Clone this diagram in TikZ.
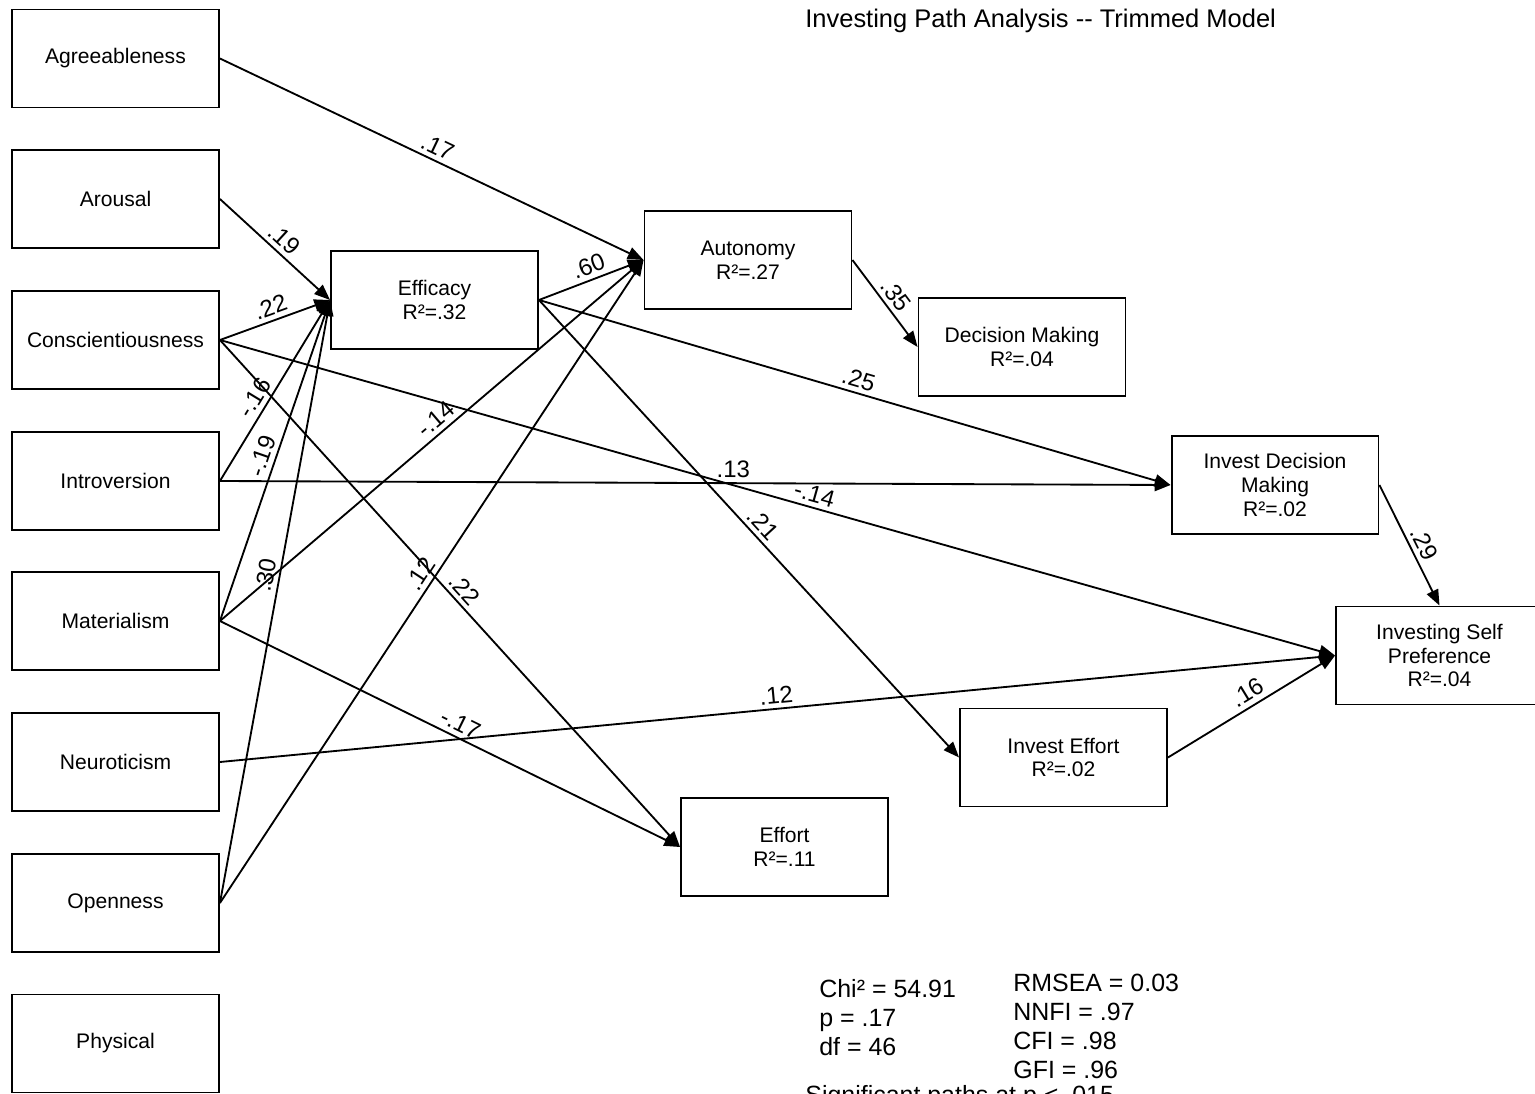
\documentclass[tikz,border=0pt]{standalone}
\usepackage{fontspec}
\setmainfont{Liberation Sans}
\usetikzlibrary{arrows.meta}
\begin{document}
\begin{tikzpicture}[x=0.02cm,y=-0.02cm,
  box/.style={draw, line width=1.1pt, minimum width=4.14cm, minimum height=1.96cm,
    inner sep=0pt, align=center, font=\fontsize{12}{13.6}\selectfont},
  pathline/.style={line width=1.05pt, -{Triangle[length=9pt,width=7pt]}},
  coef/.style={sloped, above, pos=0.5, inner sep=2.5pt, font=\fontsize{13.6}{15}\selectfont},
  stat/.style={anchor=base west, inner sep=0pt, font=\fontsize{14.2}{16}\selectfont}]
\useasboundingbox (0,0) rectangle (1535,1094);
\clip (0,0) rectangle (1535,1094);

% title
\node[anchor=base west, inner sep=0pt, font=\fontsize{14.5}{16}\selectfont] (title)
  at (805,28) {Investing Path Analysis {-}{-} Trimmed Model};

% exogenous variables
\node[box] (agr)   at (115.5,58.5)  {Agreeableness};
\node[box] (arou)  at (115.5,199)   {Arousal};
\node[box] (consc) at (115.5,340)   {Conscientiousness};
\node[box] (intro) at (115.5,481)   {Introversion};
\node[box] (mat)   at (115.5,621)   {Materialism};
\node[box] (neuro) at (115.5,762)   {Neuroticism};
\node[box] (open)  at (115.5,903)   {Openness};
\node[box] (phys)  at (115.5,1043.5){Physical};

% endogenous variables
\node[box] (eff)   at (434.5,300)   {Efficacy\\R²=.32};
\node[box] (auto)  at (748,260)     {Autonomy\\R²=.27};
\node[box] (dm)    at (1022,347)    {Decision Making\\R²=.04};
\node[box] (idm)   at (1275,485)    {Invest Decision\\Making\\R²=.02};
\node[box] (isp)   at (1439.5,655.5){Investing Self\\Preference\\R²=.04};
\node[box] (ie)    at (1063.5,757.5){Invest Effort\\R²=.02};
\node[box] (effo)  at (784.5,847)   {Effort\\R²=.11};

% paths into Efficacy
\draw[pathline] (arou.east)  -- node[coef] {.19} (eff.west);
\draw[pathline] (consc.east) -- node[coef] {.22} (eff.west);
\draw[pathline] (intro.east) -- node[coef,pos=0.42] {-.16} (eff.west);
\draw[pathline] (mat.east)   -- node[coef] {-.19} (eff.west);
\draw[pathline] (open.east)  -- node[coef,pos=0.54] {.30} (eff.west);

% paths into Autonomy
\draw[pathline] (agr.east)  -- node[coef] {.17} (auto.west);
\draw[pathline] (eff.east)  -- node[coef,pos=0.52] {.60} (auto.west);
\draw[pathline] (mat.east)  -- node[coef,pos=0.53] {-.14} (auto.west);
\draw[pathline] (open.east) -- node[coef] {.12} (auto.west);

% paths into Effort
\draw[pathline] (consc.east) -- node[coef,pos=0.51] {.22} (effo.west);
\draw[pathline] (mat.east)   -- node[coef,pos=0.51] {-.17} (effo.west);

% remaining paths
\draw[pathline] (auto.east)  -- node[coef] {.35} (dm.west);
\draw[pathline] (intro.east) -- node[coef,pos=0.54] {.13} (idm.west);
\draw[pathline] (eff.east)   -- node[coef] {.25} (idm.west);
\draw[pathline] (eff.east)   -- node[coef,pos=0.51] {.21} (ie.west);
\draw[pathline] (consc.east) -- node[coef,pos=0.53] {-.14} (isp.west);
\draw[pathline] (neuro.east) -- node[coef] {.12} (isp.west);
\draw[pathline] (ie.east)    -- node[coef,pos=0.52] {.16} (isp.west);
\draw[pathline] (idm.east)   -- node[coef,pos=0.54] {.29} (isp.north);

% fit statistics
\node[stat] (chi)   at (819,997)  {Chi² = 54.91};
\node[stat] (pval)  at (819,1026) {p = .17};
\node[stat] (df)    at (819,1055) {df = 46};
\node[stat] (rmsea) at (1013,991)  {RMSEA = 0.03};
\node[stat] (nnfi)  at (1013,1020) {NNFI = .97};
\node[stat] (cfi)   at (1013,1049) {CFI = .98};
\node[stat] (gfi)   at (1013,1078) {GFI = .96};
\node[stat] (sig)   at (805,1103)  {Significant paths at p < .015};
\end{tikzpicture}
\end{document}
